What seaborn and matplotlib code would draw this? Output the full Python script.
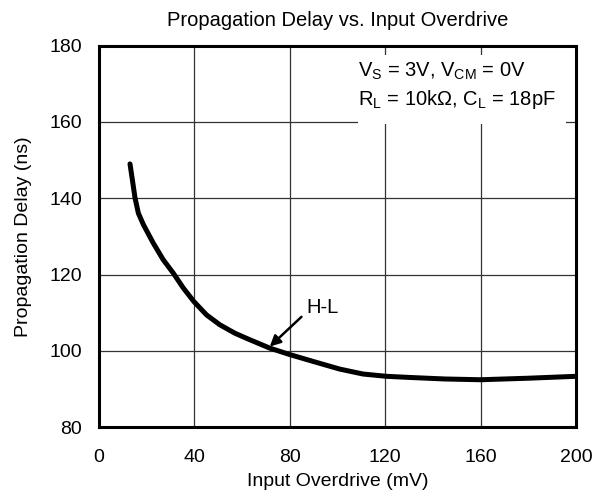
"""
Propagation delay vs. input overdrive (H-L transition)
"""

import matplotlib
matplotlib.use("Agg")
import matplotlib.pyplot as plt
from matplotlib.patches import Rectangle
import pandas as pd
import seaborn as sns

# data
overdrive_mv = [13.0, 14.1, 15.1, 16.5, 18.6, 22.7, 26.9, 31.1, 35.3, 39.8,
                45.1, 50.7, 57.0, 63.2, 71.6, 80.0, 89.8, 100.9, 110.7, 120.5,
                130.3, 145.0, 160.0, 180.0, 200.0]
delay_ns = [149.0, 144.4, 140.1, 136.1, 133.1, 128.3, 123.9, 120.4, 116.5, 112.9,
            109.4, 106.8, 104.6, 102.9, 100.7, 99.0, 97.2, 95.2, 93.9, 93.3,
            93.0, 92.6, 92.4, 92.8, 93.3]

x_ticks = [0, 40, 80, 120, 160, 200]
y_ticks = [80, 100, 120, 140, 160, 180]

title = "Propagation Delay vs. Input Overdrive"
x_label = "Input Overdrive (mV)"
y_label = "Propagation Delay (ns)"
cond_line1 = r"V$_\mathregular{S}$ = 3V, V$_\mathregular{CM}$ = 0V"
cond_line2 = r"R$_\mathregular{L}$ = 10kΩ, C$_\mathregular{L}$ = 18pF"
curve_label = "H-L"

df = pd.DataFrame({"overdrive": overdrive_mv, "delay": delay_ns})

sns.set_style("white")
plt.rcParams["font.family"] = ["Liberation Sans", "DejaVu Sans"]
plt.rcParams["mathtext.fontset"] = "custom"
plt.rcParams["mathtext.rm"] = "Liberation Sans"
for key in ["text.color", "axes.labelcolor", "xtick.color", "ytick.color"]:
    plt.rcParams[key] = "black"

fig = plt.figure(figsize=(5.96, 4.97), dpi=100)
ax = fig.add_axes([0.1661, 0.1408, 0.8003, 0.7672])

sns.lineplot(data=df, x="overdrive", y="delay", ax=ax, color="black",
             linewidth=3.6, sort=False, zorder=4,
             solid_capstyle="round", solid_joinstyle="round")

ax.set_xlim(0, 200)
ax.set_ylim(80, 180)
ax.set_xticks(x_ticks)
ax.set_yticks(y_ticks)
ax.grid(True, color="#333333", linewidth=0.9)
ax.set_axisbelow(True)
for side in ax.spines.values():
    side.set_linewidth(2.2)
    side.set_color("black")

ax.tick_params(axis="both", length=0, labelsize=14)
ax.tick_params(axis="x", pad=16)
ax.tick_params(axis="y", pad=12)

ax.set_title(title, fontsize=14.5, pad=14)
ax.set_xlabel(x_label, fontsize=14, labelpad=5)
ax.set_ylabel(y_label, fontsize=14, labelpad=13)

# conditions box (white, hides the grid behind it)
ax.add_patch(Rectangle((108.5, 159.5), 87.5, 18.1, facecolor="white",
                       edgecolor="none", zorder=2))
ax.text(108.5, 171.9, cond_line1, fontsize=14.5, ha="left", va="baseline", zorder=3)
ax.text(108.5, 164.4, cond_line2, fontsize=14.5, ha="left", va="baseline", zorder=3)

# curve label with arrow
ax.annotate("", xy=(71.6, 101.1), xytext=(84.9, 108.9),
            arrowprops=dict(arrowstyle="-|>", color="black", lw=1.8,
                            mutation_scale=16, shrinkA=0, shrinkB=0), zorder=5)
ax.text(87.0, 109.9, curve_label, fontsize=14.5, ha="left", va="baseline", zorder=5)

fig.savefig("out.png", dpi=100)
